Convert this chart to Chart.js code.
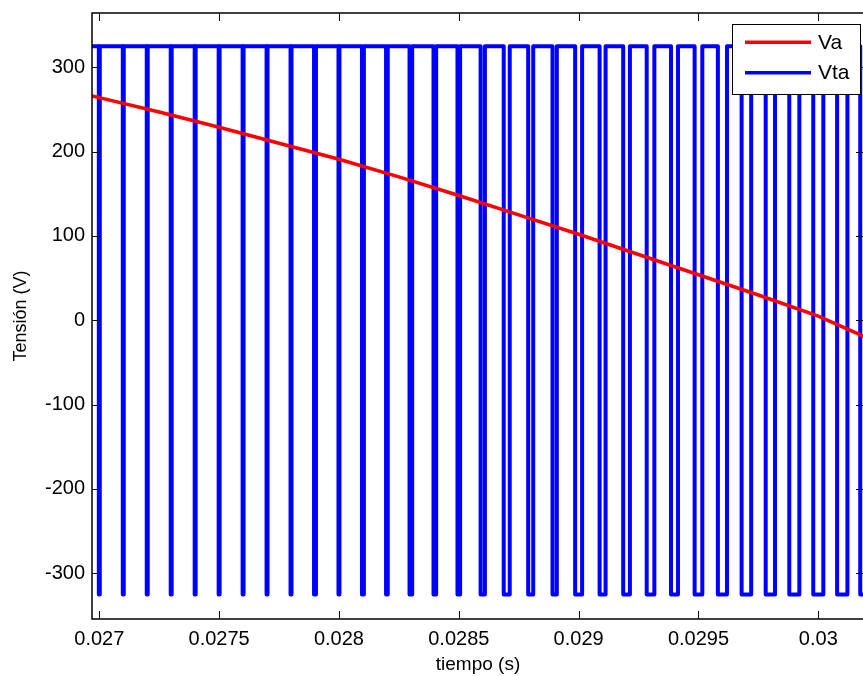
<!DOCTYPE html>
<html><head><meta charset="utf-8">
<script src="https://cdn.jsdelivr.net/npm/chart.js@4/dist/chart.umd.min.js"></script>
<style>html,body{margin:0;padding:0;background:#fff;overflow:hidden;width:863px;height:676px}canvas{display:block}</style>
</head><body>
<canvas id="c" width="870" height="676"></canvas>
<script>
// ---- data ----
const xTicks = [0.027, 0.0275, 0.028, 0.0285, 0.029, 0.0295, 0.03];
const xTickLabels = ['0.027', '0.0275', '0.028', '0.0285', '0.029', '0.0295', '0.03'];
const yTicks = [-300, -200, -100, 0, 100, 200, 300];
const yTickLabels = ['-300', '-200', '-100', '0', '100', '200', '300'];

// Va (red) sampled along the curve
const vaTime = [0.02697, 0.0270, 0.02725, 0.0275, 0.02775, 0.0280, 0.02825, 0.0285, 0.02875, 0.0290, 0.02925, 0.0295, 0.02975, 0.0300, 0.03019];
const vaValue = [266, 264, 247, 229, 210, 191, 170, 148, 125, 102, 78, 54, 30, 5, -19];

// Vta (blue) PWM: levels and low pulses (centre time, width in microseconds)
const vtaHigh = 325;
const vtaLow = -325;
const vtaStart = 0.02697;
const vtaEnd = 0.03025;
const pulseCentres = [0.0270, 0.0271, 0.0272, 0.0273, 0.0274, 0.0275, 0.0276, 0.0277, 0.0278, 0.0279,
  0.0280, 0.0281, 0.0282, 0.0283, 0.0284, 0.0285, 0.0286, 0.0287, 0.0288, 0.0289,
  0.0290, 0.0291, 0.0292, 0.0293, 0.0294, 0.0295, 0.0296, 0.0297, 0.0298, 0.0299,
  0.0300, 0.0301, 0.0302];
const pulseWidthsUs = [4, 4, 4, 4, 4, 4, 4, 4, 4, 8,
  4, 8, 7, 11, 11, 11, 18, 25, 21, 18,
  29, 25, 28, 32, 29, 32, 38, 40, 39, 42,
  42, 43, 50];

// ---- build point tables ----
const vaPoints = vaTime.map((t, i) => ({x: t, y: vaValue[i]}));
const vtaPoints = [{x: vtaStart, y: vtaHigh}];
pulseCentres.forEach((c, i) => {
  const h = pulseWidthsUs[i] * 1e-6 / 2;
  vtaPoints.push({x: c - h, y: vtaHigh}, {x: c - h, y: vtaLow}, {x: c + h, y: vtaLow}, {x: c + h, y: vtaHigh});
});
vtaPoints.push({x: vtaEnd, y: vtaHigh});

const FONT = '"Liberation Sans", Arial, Helvetica, sans-serif';

const framePlugin = {
  id: 'frame',
  afterDatasetsDraw(chart) {
    const {ctx, chartArea: a, scales} = chart;
    ctx.save();
    ctx.strokeStyle = '#000';
    ctx.lineWidth = 1;
    const tl = 8;
    ctx.beginPath();
    xTicks.forEach(v => {
      const p = Math.round(scales.x.getPixelForValue(v)) + 0.5;
      ctx.moveTo(p, a.bottom); ctx.lineTo(p, a.bottom - tl);
      ctx.moveTo(p, a.top); ctx.lineTo(p, a.top + tl);
    });
    yTicks.forEach(v => {
      const p = Math.round(scales.y.getPixelForValue(v)) + 0.5;
      ctx.moveTo(a.left, p); ctx.lineTo(a.left + tl, p);
      ctx.moveTo(a.right, p); ctx.lineTo(a.right - tl, p);
    });
    ctx.stroke();
    ctx.lineWidth = 1.5;
    ctx.strokeRect(a.left, a.top, a.right - a.left, a.bottom - a.top);
    // legend
    const lx = 732, ly = 24, lw = 128, lh = 70;
    ctx.fillStyle = '#fff';
    ctx.fillRect(lx, ly, lw, lh);
    ctx.lineWidth = 1;
    ctx.strokeRect(lx + 0.5, ly + 0.5, lw, lh);
    const rows = [42.3, 72.7];
    chart.data.datasets.forEach((ds, i) => {
      ctx.strokeStyle = ds.borderColor;
      ctx.lineWidth = 3.5;
      ctx.beginPath();
      ctx.moveTo(745, rows[i]); ctx.lineTo(811, rows[i]);
      ctx.stroke();
      ctx.fillStyle = '#000';
      ctx.font = '21px ' + FONT;
      ctx.textBaseline = 'middle';
      ctx.textAlign = 'left';
      ctx.fillText(ds.label, 818, rows[i] + 1);
    });
    ctx.restore();
  }
};

new Chart(document.getElementById('c').getContext('2d'), {
  type: 'line',
  data: {
    datasets: [
      {label: 'Va', data: vaPoints, borderColor: '#ff0000', borderWidth: 3.5, pointRadius: 0, tension: 0, order: 0},
      {label: 'Vta', data: vtaPoints, borderColor: '#0000ff', borderWidth: 4, pointRadius: 0, tension: 0, order: 1,
        borderJoinStyle: 'round', borderCapStyle: 'round'}
    ]
  },
  options: {
    responsive: false,
    animation: false,
    layout: {padding: {left: 0, top: 13, right: 6, bottom: 0}},
    plugins: {legend: {display: false}, tooltip: {enabled: false}},
    scales: {
      x: {
        type: 'linear', min: 0.02696954, max: 0.0301907,
        grid: {display: false, drawTicks: false}, border: {display: false},
        ticks: {autoSkip: false, maxRotation: 0, padding: 8, color: '#000', font: {family: FONT, size: 20},
          callback: (v, i) => xTickLabels[i]},
        title: {display: true, text: 'tiempo (s)', color: '#000', font: {family: FONT, size: 19}, padding: {top: 0, bottom: 0}},
        afterBuildTicks: s => { s.ticks = xTicks.map(v => ({value: v})); },
        afterFit: s => { s.height = 57; s.paddingLeft = 0; s.paddingRight = 0; }
      },
      y: {
        type: 'linear', min: -354.2, max: 364.4,
        grid: {display: false, drawTicks: false}, border: {display: false},
        ticks: {autoSkip: false, padding: 7, color: '#000', font: {family: FONT, size: 20},
          callback: (v, i) => yTickLabels[i]},
        title: {display: true, text: 'Tensión (V)', color: '#000', font: {family: FONT, size: 18}, padding: {top: 10, bottom: 0}},
        afterBuildTicks: s => { s.ticks = yTicks.map(v => ({value: v})); },
        afterFit: s => { s.width = 92; s.paddingTop = 0; s.paddingBottom = 0; }
      }
    }
  },
  plugins: [framePlugin]
});
</script>
</body></html>
